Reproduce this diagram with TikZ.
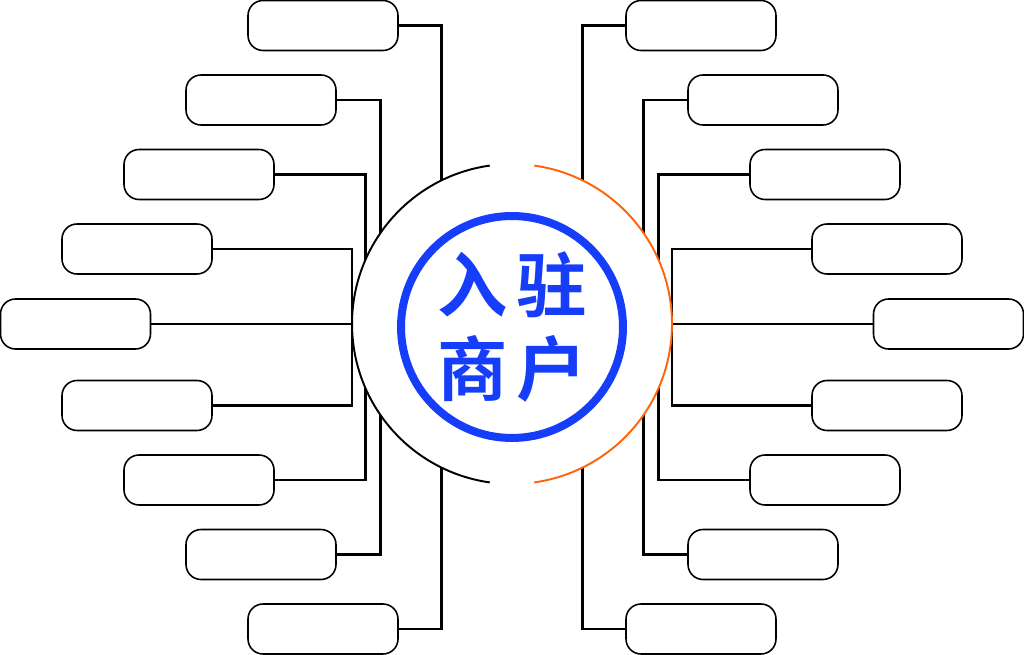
\documentclass[tikz,border=0pt]{standalone}
\usepackage{fontspec}
\usepackage{xcolor}
\usepackage{tikz}
\usetikzlibrary{shapes,arrows,backgrounds}
\newfontfamily\cjk{Noto Sans CJK SC}[BoldFont={Noto Sans CJK SC Bold}]
\definecolor{hubBL}{RGB}{22,62,250}
\definecolor{arcOR}{RGB}{255,100,10}
\tikzstyle{blockWH} = [rectangle, draw, fill=white, line width=0.9pt, rounded corners=0.3cm, minimum width=3cm, minimum height=1cm, inner sep=0pt]
\tikzstyle{hubWH} = [circle, fill=white, minimum size=6.4cm, inner sep=0pt, outer sep=0pt]
\tikzstyle{line} = [draw, line width=1.5pt]
\tikzstyle{rim} = [draw, line width=1.1pt]

\begin{document}
\begin{tikzpicture}[x=0.02cm, y=0.02cm]
  \useasboundingbox (0,0) rectangle (1024,655);

    % hub
    \node [hubWH] (hub) at (512,331) {};
    \draw [hubBL, line width=0.16cm] (hub.center) ++(0,-3) circle (2.22cm);
    \node [text=hubBL, font=\cjk\bfseries\fontsize{40}{48}\selectfont, align=center] (title) at (512,328) {入\hspace{0.12em}驻\\商\hspace{0.12em}户};

    % left nodes
    \node [blockWH] (L1) at (323,629.5) {};
    \node [blockWH] (L2) at (261,555) {};
    \node [blockWH] (L3) at (199,480.5) {};
    \node [blockWH] (L4) at (137,406) {};
    \node [blockWH] (L5) at (75.5,331) {};
    \node [blockWH] (L6) at (137,249.5) {};
    \node [blockWH] (L7) at (199,175) {};
    \node [blockWH] (L8) at (261,100.5) {};
    \node [blockWH] (L9) at (323,26) {};

    % right nodes
    \node [blockWH] (R1) at (701,629.5) {};
    \node [blockWH] (R2) at (763,555) {};
    \node [blockWH] (R3) at (825,480.5) {};
    \node [blockWH] (R4) at (887,406) {};
    \node [blockWH] (R5) at (948.5,331) {};
    \node [blockWH] (R6) at (887,249.5) {};
    \node [blockWH] (R7) at (825,175) {};
    \node [blockWH] (R8) at (763,100.5) {};
    \node [blockWH] (R9) at (701,26) {};

    % edges
    \begin{scope}[on background layer]
    \path [line] (L1.east) -- ++(43,0) |- (L9.east);
    \path [line] (L2.east) -- ++(44,0) |- (L8.east);
    \path [line] (L3.east) -- ++(91,0) |- (L7.east);
    \path [line] (L4.east) -| (hub.west) |- (L6.east);
    \path [line] (L5.east) -- (hub.west);
    \path [line] (R1.west) -- ++(-43,0) |- (R9.west);
    \path [line] (R2.west) -- ++(-44,0) |- (R8.west);
    \path [line] (R3.west) -- ++(-91,0) |- (R7.west);
    \path [line] (R4.west) -| (hub.east) |- (R6.west);
    \path [line] (R5.west) -- (hub.east);
    \end{scope}

  % rim
  \path [rim, black] (hub.98) arc[start angle=98, end angle=262, radius=3.2cm];
  \path [rim, arcOR] (hub.82) arc[start angle=82, end angle=-82, radius=3.2cm];

  \end{tikzpicture}
\end{document}
